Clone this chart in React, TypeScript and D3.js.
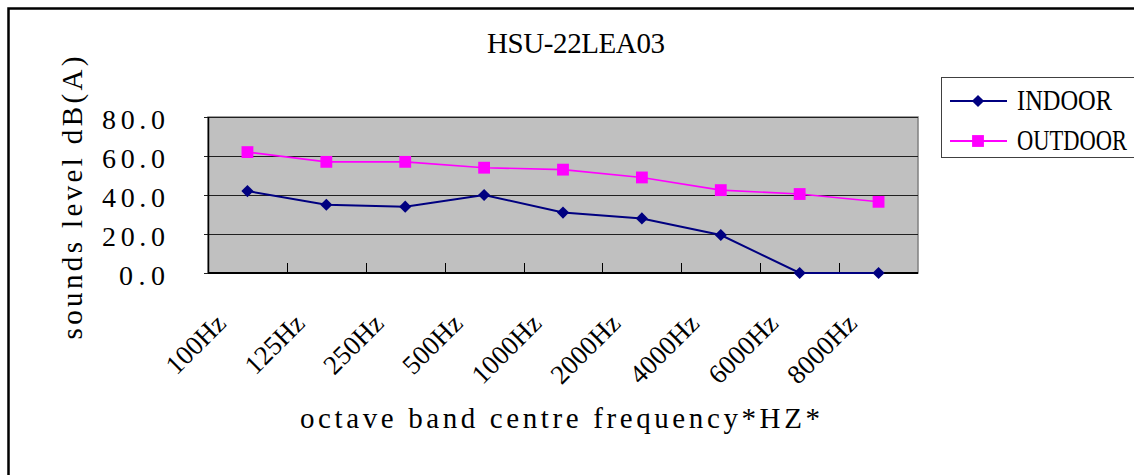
import React from "react";
import * as d3 from "d3";

const title = "HSU-22LEA03";
const yTitle = "sounds level dB(A)";
const xTitle = "octave band centre frequency*HZ*";
const categories = ["100Hz", "125Hz", "250Hz", "500Hz", "1000Hz", "2000Hz", "4000Hz", "6000Hz", "8000Hz"];
const indoor = [42, 35, 34, 40, 31, 28, 19.5, 0, 0];
const outdoor = [62, 57, 57, 54, 53, 49, 42.5, 40.5, 36.5];
const yTicks = [0, 20, 40, 60, 80];
const seriesNames = ["INDOOR", "OUTDOOR"];

const FONT = "'Liberation Serif', 'DejaVu Serif', serif";
const W = 1134;
const H = 475;
const plot = { left: 208, right: 918, top: 117, bottom: 273 };

const tStyle = { fontFamily: FONT };

export default function App() {
  const x = d3.scaleBand<string>().domain(categories).range([plot.left, plot.right]);
  const cx = (c: string) => (x(c) as number) + x.bandwidth() / 2;
  const y = d3.scaleLinear().domain([0, 80]).range([plot.bottom, plot.top]);

  const line = d3
    .line<number>()
    .x((_, i) => cx(categories[i]))
    .y((d) => y(d));

  const diamond = d3.symbol(d3.symbolSquare, 74)() as string;
  const square = d3.symbol(d3.symbolSquare, 140)() as string;

  const navy = "#000080";
  const magenta = "#FF00FF";

  return (
    <svg
      width={W}
      height={H}
      style={{ position: "absolute", left: 0, top: 0, display: "block", background: "#fff" }}
    >
      {/* outer frame */}
      <rect x={8.5} y={8.5} width={1200} height={600} fill="#fff" stroke="#000" strokeWidth={2.5} />

      {/* title */}
      <text x={576} y={53} fontSize={29} style={tStyle} textAnchor="middle" textLength={178} lengthAdjust="spacing" fill="#000">
        {title}
      </text>

      {/* plot area */}
      <rect x={plot.left} y={plot.top} width={plot.right - plot.left} height={plot.bottom - plot.top} fill="#C0C0C0" stroke="#808080" strokeWidth={1.5} />

      {/* gridlines */}
      {yTicks.map((t) => (
        <line key={"g" + t} x1={plot.left - 4} x2={plot.right} y1={Math.round(y(t)) + 0.5} y2={Math.round(y(t)) + 0.5} stroke="#202020" strokeWidth={1} />
      ))}

      {/* y axis */}
      <line x1={plot.left + 0.5} x2={plot.left + 0.5} y1={plot.top} y2={plot.bottom} stroke="#000" strokeWidth={1.5} />
      {/* x axis */}
      <line x1={plot.left} x2={plot.right} y1={plot.bottom} y2={plot.bottom} stroke="#000" strokeWidth={2} />
      {categories.slice(1).map((c) => (
        <line key={"t" + c} x1={Math.round(x(c) as number) + 0.5} x2={Math.round(x(c) as number) + 0.5} y1={plot.bottom} y2={plot.bottom - 10} stroke="#000" strokeWidth={1} />
      ))}

      {/* y tick labels */}
      {yTicks.map((t) => {
        const s = t.toFixed(1);
        return (
          <text key={"yl" + t} x={165} y={y(t) + 12} fontSize={28} style={tStyle} textAnchor="end" textLength={17 * s.length - 5} lengthAdjust="spacing" fill="#000">
            {s}
          </text>
        );
      })}

      {/* x tick labels */}
      {categories.map((c) => (
        <text key={"xl" + c} transform={`translate(${cx(c) - 20},${325}) rotate(-45)`} fontSize={27} style={tStyle} textAnchor="end" fill="#000">
          {c}
        </text>
      ))}

      {/* axis titles */}
      <text x={300} y={428} fontSize={29} style={tStyle} textLength={520} lengthAdjust="spacing" fill="#000">
        {xTitle}
      </text>
      <text transform={`translate(82,${198})rotate(-90)`} fontSize={29} style={tStyle} textAnchor="middle" textLength={283} lengthAdjust="spacing" fill="#000">
        {yTitle}
      </text>

      {/* series */}
      <path d={line(outdoor) as string} fill="none" stroke={magenta} strokeWidth={1.6} />
      {outdoor.map((v, i) => (
        <path key={"o" + i} d={square} transform={`translate(${cx(categories[i])},${y(v)})`} fill={magenta} />
      ))}
      <path d={line(indoor) as string} fill="none" stroke={navy} strokeWidth={2} />
      {indoor.map((v, i) => (
        <path key={"n" + i} d={diamond} transform={`translate(${cx(categories[i])},${y(v)}) rotate(45)`} fill={navy} />
      ))}

      {/* legend */}
      <rect x={941.5} y={77.5} width={300} height={80} fill="#fff" stroke="#404040" strokeWidth={1} />
      <line x1={950} x2={1007} y1={101} y2={101} stroke={navy} strokeWidth={2} />
      <path d={diamond} transform={`translate(978,101) rotate(45)`} fill={navy} />
      <text x={1017} y={110} fontSize={29} style={tStyle} textLength={95} lengthAdjust="spacingAndGlyphs" fill="#000">
        {seriesNames[0]}
      </text>
      <line x1={950} x2={1007} y1={141} y2={141} stroke={magenta} strokeWidth={2} />
      <path d={square} transform={`translate(978,141)`} fill={magenta} />
      <text x={1017} y={150} fontSize={29} style={tStyle} textLength={110} lengthAdjust="spacingAndGlyphs" fill="#000">
        {seriesNames[1]}
      </text>
    </svg>
  );
}
